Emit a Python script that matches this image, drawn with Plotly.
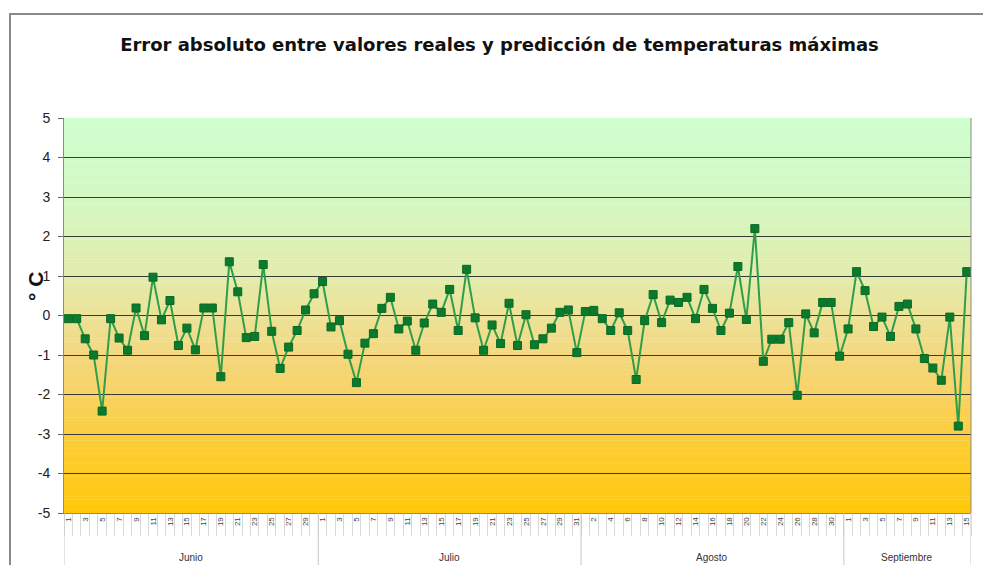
import plotly.graph_objects as go

# ---------------- data ----------------
months = ["Junio", "Julio", "Agosto", "Septiembre"]
month_days = [30, 31, 31, 15]

junio = [-0.08, -0.08, -0.59, -1.0, -2.42, -0.08, -0.57, -0.88, 0.19, -0.51,
         0.97, -0.11, 0.38, -0.76, -0.32, -0.87, 0.19, 0.19, -1.55, 1.36,
         0.6, -0.56, -0.53, 1.29, -0.4, -1.34, -0.8, -0.38, 0.14, 0.55]
julio = [0.86, -0.29, -0.13, -0.98, -1.7, -0.7, -0.46, 0.18, 0.46, -0.34,
         -0.14, -0.88, -0.19, 0.29, 0.08, 0.66, -0.38, 1.17, -0.06, -0.88,
         -0.24, -0.71, 0.31, -0.76, 0.02, -0.74, -0.59, -0.32, 0.08, 0.14,
         -0.94]
agosto = [0.1, 0.13, -0.08, -0.38, 0.07, -0.38, -1.62, -0.13, 0.53, -0.18,
          0.39, 0.33, 0.46, -0.08, 0.66, 0.18, -0.38, 0.06, 1.24, -0.1,
          2.2, -1.16, -0.6, -0.6, -0.18, -2.02, 0.04, -0.44, 0.33, 0.33,
          -1.03]
septiembre = [-0.34, 1.11, 0.63, -0.28, -0.04, -0.53, 0.23, 0.29, -0.34, -1.09,
              -1.33, -1.64, -0.04, -2.8, 1.11]

y_ticks = [5, 4, 3, 2, 1, 0, -1, -2, -3, -4, -5]
title_text = "Error absoluto entre valores reales y predicción de temperaturas máximas"
y_label = "° C"

# ---------------- build ----------------
values = junio + julio + agosto + septiembre
day_labels = []
for m, n in zip(months, month_days):
    for d in range(1, n + 1):
        day_labels.append(str(d))
xs = list(range(len(values)))

W, H = 983, 557          # page body has an 8px margin
ML, MR, MT, MB = 56, 20, 110, 52
PW, PH = W - ML - MR, H - MT - MB


def px_x(fx):
    return (fx - ML) / PW


def px_y(fy):
    return (H - MB - fy) / PH


fig = go.Figure()
fig.add_trace(go.Scatter(
    x=xs, y=values, mode="lines+markers",
    line=dict(color="#2F9E4A", width=2),
    marker=dict(symbol="square", size=8, color="#0B7A2C",
                line=dict(color="#0A6A24", width=1)),
    hoverinfo="y", showlegend=False,
))

# gradient background (light green -> beige -> gold)
stops = [(5, (206, 255, 206)), (3, (212, 248, 196)), (1, (226, 236, 172)),
         (0, (236, 226, 152)), (-1, (243, 216, 128)), (-2, (248, 210, 100)),
         (-3, (252, 206, 60)), (-5, (255, 200, 8))]


def color_at(v):
    for (ya, ca), (yb, cb) in zip(stops[:-1], stops[1:]):
        if yb <= v <= ya:
            t = (ya - v) / (ya - yb)
            return tuple(int(round(ca[k] + (cb[k] - ca[k]) * t)) for k in range(3))
    return stops[-1][1]


nb = 120
shapes = []
for i in range(nb):
    y1 = 5 - 10 * i / nb
    y0 = 5 - 10 * (i + 1) / nb
    c = color_at((y0 + y1) / 2)
    shapes.append(dict(type="rect", xref="x domain", yref="y", x0=0, x1=1,
                       y0=y0, y1=y1 + 0.01, fillcolor="rgb(%d,%d,%d)" % c,
                       line=dict(width=0), layer="below"))

# month dividers and labels
start = 0
annotations = []
bounds = [-0.5]
for m, n in zip(months, month_days):
    bounds.append(start + n - 0.5)
    mid = start + (n - 1) / 2
    annotations.append(dict(x=mid, y=px_y(549), xref="x", yref="paper",
                            text=m, showarrow=False, yanchor="middle",
                            font=dict(size=10, color="#333333")))
    start += n
for b in bounds:
    shapes.append(dict(type="line", xref="x", yref="paper", x0=b, x1=b,
                       y0=0, y1=px_y(H + 5), line=dict(color="#C8C8C8", width=1)))

# outer chart border
shapes.append(dict(type="rect", xref="paper", yref="paper",
                   x0=px_x(2), x1=px_x(W + 10), y0=px_y(H + 10), y1=px_y(6),
                   line=dict(color="#8A8A8A", width=2), fillcolor="rgba(0,0,0,0)"))
# right plot border
shapes.append(dict(type="line", xref="paper", yref="paper", x0=1, x1=1,
                   y0=0, y1=1, line=dict(color="#8A8A8A", width=1)))

annotations.append(dict(x=px_x(25), y=px_y(279), xref="paper", yref="paper",
                        xanchor="center", yanchor="middle",
                        text="<b>%s</b>" % y_label, showarrow=False,
                        textangle=-90, xshift=2,
                        font=dict(size=21, color="#111111")))

fig.update_layout(
    width=W, height=H,
    margin=dict(l=ML, r=MR, t=MT, b=MB),
    paper_bgcolor="white", plot_bgcolor="rgba(0,0,0,0)",
    font=dict(family="Liberation Sans, Arial, sans-serif", color="#222222"),
    title=dict(text="<b>%s</b>" % title_text, x=0.5, xanchor="center",
               y=1 - 37 / H, yanchor="middle",
               font=dict(family="DejaVu Sans, sans-serif", size=18,
                         color="#111111")),
    shapes=shapes, annotations=annotations,
)
fig.update_xaxes(
    range=[-0.5, len(values) - 0.5],
    tickmode="array", tickvals=xs[::2], ticktext=day_labels[::2],
    tickangle=-90, tickfont=dict(size=8, color="#444444"),
    ticks="", showgrid=False, zeroline=False,
    showline=True, linecolor="#8A8A8A", linewidth=1,
    minor=dict(tickmode="array", tickvals=[b - 0.5 for b in range(len(values) + 1)],
               ticks="outside", ticklen=22, tickcolor="#D8D8D8", tickwidth=1,
               showgrid=False),
)
fig.update_yaxes(
    range=[-5, 5], tickmode="array", tickvals=y_ticks,
    ticktext=[str(v) for v in y_ticks],
    tickfont=dict(size=14, color="#222222"),
    ticks="outside", ticklen=5, tickcolor="#666666",
    ticklabelstandoff=5,
    showgrid=True, gridcolor="#3A3A3A", gridwidth=1,
    zeroline=False, showline=True, linecolor="#8A8A8A", linewidth=1,
)

fig.write_html("out.html")
